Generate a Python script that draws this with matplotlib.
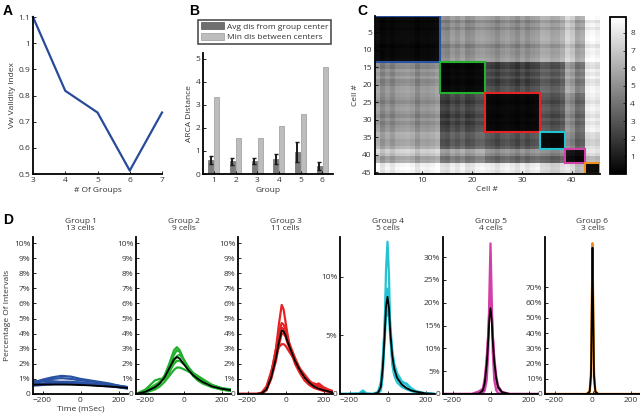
import numpy as np
import matplotlib
matplotlib.use("Agg")
import matplotlib.pyplot as plt
from matplotlib.patches import Rectangle, Patch
from matplotlib.ticker import FuncFormatter

# ─── Panel A: validity index vs number of groups ─────────────
n_groups = [3, 4, 5, 6, 7]
vw_index = [1.10, 0.818, 0.735, 0.513, 0.735]

# ─── Panel B: ARCA distances per group ───────────────────────
groups = [1, 2, 3, 4, 5, 6]
avg_dist = [0.60, 0.55, 0.55, 0.65, 0.97, 0.35]
avg_err = [0.17, 0.14, 0.13, 0.20, 0.43, 0.16]
min_dist = [3.35, 1.55, 1.55, 2.08, 2.62, 4.65]

# ─── Panel C: distance matrix (group blocks + per-cell offsets)
group_sizes = [13, 9, 11, 5, 4, 3]
block_dist = [
    [0.3, 5.0, 5.0, 5.6, 5.8, 8.0],
    [5.0, 0.3, 2.5, 3.2, 4.5, 7.8],
    [5.0, 2.5, 0.3, 2.8, 3.8, 7.8],
    [5.6, 3.2, 2.8, 0.3, 3.5, 7.0],
    [5.8, 4.5, 3.8, 3.5, 0.3, 6.3],
    [8.0, 7.8, 7.8, 7.0, 6.3, 0.3],
]
cell_offset = [0.5, -0.5, 0.1, -0.4, 0.2, 0.3, 0.4, 0.2, -0.5, 0.1, 0.0, 0.2, 0.5,
               -0.3, -0.5, 0.2, -0.2, 0.3, -0.4, -0.2, 0.3, 0.4,
               0.2, 0.0, -0.4, 0.1, 0.3, 0.0, -0.4, 0.2, -0.3, 0.1, 0.3,
               0.3, 0.2, -0.2, -0.1, 0.4,
               1.4, 0.9, -0.3, 0.0,
               0.3, 0.5, 0.2]
group_colors = ["#2a52a3", "#22b02e", "#e42424", "#22c3d3", "#d23fa6", "#f0901e"]

# ─── Panel D: interval histograms (percent) ──────────────────
g1_time = [-250, -200, -150, -100, -50, 0, 50, 100, 150, 200, 250]
g1_cells = [
    [0.75, 0.95, 1.10, 1.20, 1.15, 1.00, 0.90, 0.80, 0.70, 0.55, 0.45],
    [0.70, 0.85, 1.00, 1.05, 1.00, 0.90, 0.85, 0.75, 0.65, 0.55, 0.45],
    [0.65, 0.70, 0.75, 0.80, 0.80, 0.75, 0.70, 0.65, 0.55, 0.50, 0.40],
    [0.60, 0.65, 0.65, 0.65, 0.65, 0.60, 0.60, 0.55, 0.50, 0.45, 0.40],
    [0.85, 0.85, 0.85, 0.80, 0.80, 0.75, 0.70, 0.65, 0.55, 0.45, 0.35],
    [0.55, 0.60, 0.65, 0.70, 0.70, 0.70, 0.65, 0.60, 0.55, 0.50, 0.45],
]
g1_mean = [0.62, 0.63, 0.63, 0.63, 0.62, 0.60, 0.57, 0.53, 0.50, 0.45, 0.40]

g2_time = [-250, -200, -150, -125, -100, -75, -50, -35, -20, 0, 25, 50, 75, 100, 150, 200, 250]
g2_cells = [
    [0, 0.1, 0.4, 0.7, 1.2, 2.0, 2.9, 3.1, 2.9, 2.3, 1.7, 1.3, 1.0, 0.8, 0.5, 0.3, 0.2],
    [0, 0.3, 0.9, 1.0, 1.0, 1.4, 2.2, 2.5, 2.6, 2.3, 1.8, 1.4, 1.1, 0.9, 0.55, 0.35, 0.25],
    [0, 0.1, 0.3, 0.5, 0.8, 1.2, 1.6, 1.75, 1.75, 1.65, 1.5, 1.3, 1.1, 0.9, 0.6, 0.4, 0.3],
    [0, 0.1, 0.5, 0.8, 1.2, 1.8, 2.6, 2.9, 2.8, 2.3, 1.7, 1.2, 0.9, 0.7, 0.45, 0.3, 0.2],
    [0, 0.2, 0.6, 0.8, 1.0, 1.5, 2.0, 2.2, 2.2, 2.0, 1.7, 1.4, 1.2, 1.0, 0.6, 0.35, 0.3],
]
g2_mean = [0, 0.15, 0.45, 0.7, 1.1, 1.7, 2.3, 2.45, 2.35, 2.0, 1.6, 1.25, 1.0, 0.8, 0.5, 0.35, 0.25]

g3_time = [-250, -150, -125, -100, -75, -50, -35, -20, -10, 0, 10, 25, 50, 75, 100, 125, 150, 175, 200, 250]
g3_cells = [
    [0, 0, 0.05, 0.3, 1.3, 3.0, 4.6, 5.9, 5.6, 4.8, 4.0, 3.0, 2.0, 1.4, 0.9, 0.6, 0.4, 0.3, 0.2, 0.1],
    [0, 0, 0.05, 0.4, 1.4, 3.0, 4.1, 4.7, 4.6, 4.3, 3.8, 3.1, 2.2, 1.5, 1.0, 0.7, 0.55, 0.7, 0.45, 0.15],
    [0, 0, 0.1, 0.5, 1.5, 2.6, 3.1, 3.3, 3.3, 3.2, 3.0, 2.7, 2.2, 1.7, 1.3, 0.9, 0.6, 0.5, 0.35, 0.2],
    [0, 0, 0.05, 0.35, 1.2, 2.6, 3.7, 4.4, 4.3, 4.0, 3.6, 3.2, 2.4, 1.7, 1.1, 0.8, 0.7, 0.6, 0.3, 0.1],
    [0, 0, 0.02, 0.25, 1.0, 2.2, 3.2, 4.0, 4.0, 3.8, 3.4, 2.9, 2.2, 1.5, 1.0, 0.65, 0.45, 0.35, 0.25, 0.1],
]
g3_mean = [0, 0, 0.05, 0.3, 1.1, 2.4, 3.4, 4.2, 4.15, 3.9, 3.5, 3.0, 2.2, 1.6, 1.1, 0.75, 0.5, 0.35, 0.25, 0.1]

g4_time = [-250, -150, -130, -110, -75, -50, -35, -25, -15, -8, 0, 8, 15, 25, 35, 50, 75, 100, 125, 150, 200, 250]
g4_cells = [
    [0, 0, 0, 0, 0, 0, 0.3, 1.5, 5.5, 10.5, 13.0, 10.0, 5.0, 2.5, 1.6, 1.0, 0.6, 0.4, 0.25, 0.15, 0.05, 0],
    [0, 0, 0, 0, 0, 0.05, 0.6, 2.5, 6.0, 8.6, 9.0, 7.8, 5.8, 3.8, 2.6, 1.8, 1.1, 0.8, 0.4, 0.2, 0.05, 0],
    [0, 0.05, 0.3, 0.05, 0, 0.2, 1.0, 3.0, 5.5, 7.0, 7.5, 6.8, 5.2, 3.4, 2.3, 1.6, 1.0, 0.9, 0.5, 0.25, 0.05, 0],
    [0, 0, 0, 0, 0, 0.1, 0.5, 2.0, 4.5, 6.5, 7.2, 6.5, 4.8, 3.0, 2.0, 1.3, 0.9, 0.5, 0.3, 0.15, 0.05, 0],
]
g4_mean = [0, 0, 0.05, 0, 0, 0.1, 0.6, 2.2, 5.0, 7.4, 8.3, 7.3, 5.2, 3.3, 2.2, 1.4, 0.8, 0.5, 0.3, 0.2, 0.05, 0]

g5_time = [-250, -100, -60, -40, -30, -20, -12, -6, 0, 6, 12, 20, 30, 40, 60, 100, 250]
g5_cells = [
    [0, 0, 0, 0.2, 0.8, 3, 9, 22, 33, 22, 9, 3, 0.8, 0.2, 0, 0, 0],
    [0, 0, 0.1, 0.8, 2.5, 7, 13, 19, 22, 19, 13, 7, 3, 1.2, 0.3, 0, 0],
    [0, 0, 0.6, 1.2, 3.5, 8, 13, 17, 18, 17, 13, 8, 4, 1.8, 0.5, 0, 0],
]
g5_mean = [0, 0, 0.1, 0.8, 2.5, 6.5, 11.5, 16.5, 18.8, 16.5, 11.5, 7, 3.5, 1.5, 0.4, 0, 0]

g6_time = [-250, -30, -15, -8, -4, 0, 4, 8, 15, 30, 250]
g6_cells = [
    [0, 0, 1, 10, 45, 99, 45, 10, 1, 0, 0],
    [0, 0, 2, 15, 55, 97, 55, 15, 2, 0, 0],
]
g6_mean = [0, 0, 1.5, 12, 50, 96, 50, 12, 1.5, 0, 0]

d_times = [g1_time, g2_time, g3_time, g4_time, g5_time, g6_time]
d_cells = [g1_cells, g2_cells, g3_cells, g4_cells, g5_cells, g6_cells]
d_means = [g1_mean, g2_mean, g3_mean, g4_mean, g5_mean, g6_mean]
d_ylim = [10.4, 10.4, 10.4, 13.4, 34.4, 103]
d_yticks = [range(0, 11), range(0, 11), range(0, 11), [0, 5, 10],
            [0, 5, 10, 15, 20, 25, 30], [0, 10, 20, 30, 40, 50, 60, 70]]

# ─── Style ────────────────────────────────────────────────────
TXT = "#333333"
plt.rcParams.update({
    "font.family": ["Open Sans", "DejaVu Sans"],
    "font.size": 6,
    "axes.linewidth": 1.3,
    "axes.labelcolor": TXT,
    "text.color": TXT,
    "xtick.labelcolor": TXT,
    "ytick.labelcolor": TXT,
    "xtick.direction": "in",
    "ytick.direction": "in",
    "xtick.major.size": 2.5,
    "ytick.major.size": 2.5,
    "xtick.major.width": 0.6,
    "ytick.major.width": 0.6,
    "xtick.major.pad": 2,
    "ytick.major.pad": 2,
    "axes.labelpad": 2,
})

W, H = 640, 416
fig = plt.figure(figsize=(W / 100, H / 100), dpi=100)


def box(l, t, r, b):
    return [l / W, 1 - b / H, (r - l) / W, (b - t) / H]


def matlab_axes(rect):
    ax = fig.add_axes(rect)
    ax.spines["top"].set_visible(False)
    ax.spines["right"].set_visible(False)
    return ax


g_fmt = FuncFormatter(lambda v, _: f"{v:g}")

# ─── A ────────────────────────────────────────────────────────
axA = matlab_axes(box(33, 17, 162, 174))
axA.plot(n_groups, vw_index, color="#284a9a", lw=1.6, clip_on=False)
axA.set_xlim(3, 7)
axA.set_ylim(0.5, 1.1)
axA.set_xticks(n_groups)
axA.set_yticks(np.arange(0.5, 1.11, 0.1))
axA.yaxis.set_major_formatter(g_fmt)
axA.set_xlabel("# Of Groups")
axA.set_ylabel("Vw Validity Index")

# ─── B ────────────────────────────────────────────────────────
axB = matlab_axes(box(203, 53, 333, 174))
xg = np.array(groups)
axB.bar(xg - 0.14, avg_dist, width=0.24, color="#7d7d7d", edgecolor="#6a6a6a", lw=0.5)
axB.errorbar(xg - 0.14, avg_dist, yerr=avg_err, fmt="none", ecolor="#1a1a1a",
             elinewidth=1.4, capsize=1.2, capthick=1)
axB.bar(xg + 0.14, min_dist, width=0.24, color="#bdbdbd", edgecolor="#9a9a9a", lw=0.5)
axB.set_xlim(0.5, 6.5)
axB.set_ylim(0, 5.26)
axB.set_xticks(groups)
axB.set_yticks(range(0, 6))
axB.set_xlabel("Group")
axB.set_ylabel("ARCA Distance")
leg = fig.legend(handles=[Patch(facecolor="#6e6e6e", edgecolor="#555555", lw=0.5),
                          Patch(facecolor="#bdbdbd", edgecolor="#9a9a9a", lw=0.5)],
                 labels=["Avg dis from group center", "Min dis between centers"],
                 loc="upper left", bbox_to_anchor=(198 / W, 1 - 20 / H),
                 fancybox=False, frameon=True, handlelength=2.8, handleheight=0.9,
                 borderpad=0.3, labelspacing=0.25, handletextpad=0.4,
                 borderaxespad=0, fontsize=6)
leg.get_frame().set_edgecolor("#222222")
leg.get_frame().set_linewidth(1.2)

# ─── C ────────────────────────────────────────────────────────
gid = np.repeat(np.arange(len(group_sizes)), group_sizes)
off = np.array(cell_offset)
blk = np.array(block_dist)[gid][:, gid]
same = gid[:, None] == gid[None, :]
dist = np.where(same, blk + 0.2 * (off[:, None] + off[None, :]),
                blk + off[:, None] + off[None, :])
dist = np.clip(dist, 0.1, 8.9)

axC = fig.add_axes(box(374.5, 16.3, 599.5, 173.8))
im = axC.imshow(dist, cmap="gray", vmin=0, vmax=8.9, aspect="auto",
                extent=(0.5, 45.5, 45.5, 0.5), interpolation="nearest")
start = 0.5
for size, col in zip(group_sizes, group_colors):
    axC.add_patch(Rectangle((start, start), size, size, fill=False,
                            edgecolor=col, lw=1.5))
    start += size
axC.spines["top"].set_visible(False)
axC.spines["right"].set_visible(False)
axC.set_xticks([10, 20, 30, 40])
axC.set_yticks(range(5, 46, 5))
axC.set_xlabel("Cell #")
axC.set_ylabel("Cell #")

cax = fig.add_axes(box(610, 17, 626, 174))
cb = fig.colorbar(im, cax=cax, ticks=range(1, 9))
cb.outline.set_linewidth(1.3)
cax.tick_params(direction="in", length=2, width=0.5, pad=3)

# ─── D ────────────────────────────────────────────────────────
pct_fmt = FuncFormatter(lambda v, _: "0" if v == 0 else f"{v:g}%")
lefts = [33, 136, 238, 340, 443, 545]
for i in range(6):
    ax = matlab_axes(box(lefts[i], 237, lefts[i] + 95, 394))
    for cell in d_cells[i]:
        ax.plot(d_times[i], cell, color=group_colors[i], lw=1.6)
    ax.plot(d_times[i], d_means[i], color="black", lw=1.3)
    ax.set_xlim(-250, 250)
    ax.set_ylim(0, d_ylim[i])
    ax.set_xticks([-200, 0, 200])
    ax.set_yticks(list(d_yticks[i]))
    ax.yaxis.set_major_formatter(pct_fmt)
    ax.set_title(f"Group {i + 1}\n{group_sizes[i]} cells", fontsize=6, pad=5,
                 linespacing=1.1, color=TXT)
    if i == 0:
        ax.set_ylabel("Percentage Of Intervals")
        ax.set_xlabel("Time (mSec)", labelpad=1)

# ─── Panel letters ────────────────────────────────────────────
for letter, x, y in [("A", 3, 4), ("B", 189, 4), ("C", 357, 4), ("D", 3, 213)]:
    fig.text(x / W, 1 - y / H, letter, fontsize=10, fontweight="bold",
             family="Liberation Sans", color="black", va="top", ha="left")

fig.savefig("out.png", dpi=100)
